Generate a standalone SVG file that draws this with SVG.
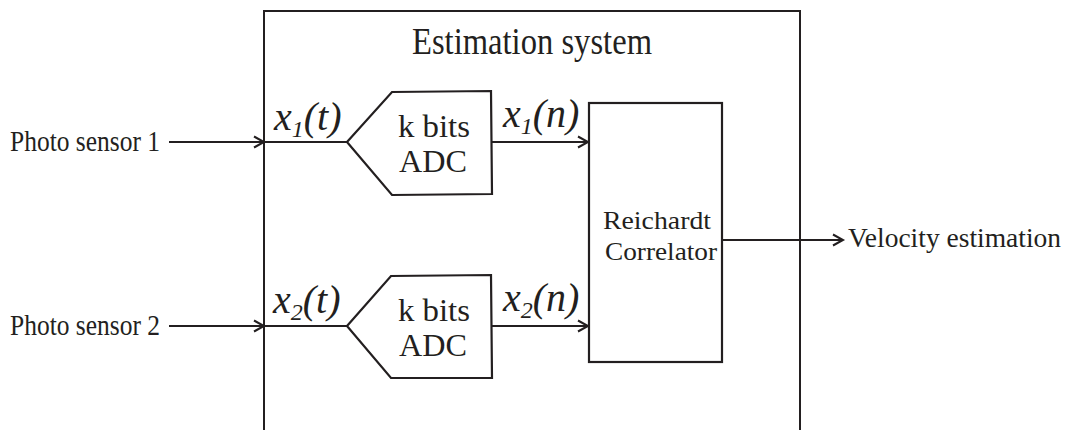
<svg xmlns="http://www.w3.org/2000/svg" width="1070" height="430" viewBox="0 0 1070 430">
  <style>
    .ln { fill: none; stroke: #231f20; stroke-width: 2; }
    .blk { fill: #ffffff; stroke: #231f20; stroke-width: 2.2; stroke-linejoin: miter; }
    .tx { font-family: "Liberation Serif", "Times New Roman", serif; fill: #231f20; }
    .sig { font-family: "Liberation Serif", "Times New Roman", serif; font-style: italic; fill: #231f20; font-size: 40px; }
    .sub { font-size: 24px; }
  </style>
  <defs>
    <marker id="arr" markerWidth="14" markerHeight="14" refX="11" refY="7" orient="auto" markerUnits="userSpaceOnUse">
      <path d="M1,1.5 L11,7 L1,12.5" fill="none" stroke="#231f20" stroke-width="2"/>
    </marker>
  </defs>
  <rect width="1070" height="430" fill="#ffffff"/>

  <!-- enclosing system box, open at the bottom -->
  <g id="system">
    <path class="ln" d="M264,430 V11 H800 V430" stroke-width="2.2"/>
    <text class="tx" x="412" y="54" font-size="37" textLength="240" lengthAdjust="spacingAndGlyphs">Estimation system</text>
  </g>

  <g id="sensor1">
    <text class="tx" x="10" y="151" font-size="29" textLength="150" lengthAdjust="spacingAndGlyphs">Photo sensor 1</text>
  </g>
  <g id="sensor2">
    <text class="tx" x="10" y="335" font-size="29" textLength="150" lengthAdjust="spacingAndGlyphs">Photo sensor 2</text>
  </g>

  <g id="adc1">
    <polygon class="blk" points="347,142 392,92 491,91 492,194 392,195"/>
    <text class="tx" x="398" y="137" font-size="32" textLength="72" lengthAdjust="spacingAndGlyphs">k bits</text>
    <text class="tx" x="399" y="172" font-size="31" textLength="68" lengthAdjust="spacingAndGlyphs">ADC</text>
  </g>
  <g id="adc2">
    <polygon class="blk" points="347,326 391,276 491,275 492,378 391,378"/>
    <text class="tx" x="398" y="321" font-size="32" textLength="72" lengthAdjust="spacingAndGlyphs">k bits</text>
    <text class="tx" x="399" y="356" font-size="31" textLength="68" lengthAdjust="spacingAndGlyphs">ADC</text>
  </g>

  <g id="correlator">
    <rect class="blk" x="589" y="103" width="133" height="259"/>
    <text class="tx" x="603" y="229" font-size="26" textLength="108" lengthAdjust="spacingAndGlyphs">Reichardt</text>
    <text class="tx" x="605" y="260" font-size="26" textLength="112" lengthAdjust="spacingAndGlyphs">Correlator</text>
  </g>

  <g id="output">
    <text class="tx" x="848" y="247" font-size="27.5">Velocity estimation</text>
  </g>

  <g id="connectors">
    <line class="ln" x1="169" y1="142" x2="264" y2="142" marker-end="url(#arr)"/>
    <line class="ln" x1="264" y1="142" x2="347" y2="142"/>
    <line class="ln" x1="169" y1="326" x2="264" y2="326" marker-end="url(#arr)"/>
    <line class="ln" x1="264" y1="326" x2="347" y2="326"/>
    <line class="ln" x1="492" y1="142" x2="588" y2="142" marker-end="url(#arr)"/>
    <line class="ln" x1="492" y1="326" x2="588" y2="326" marker-end="url(#arr)"/>
    <line class="ln" x1="722" y1="240" x2="843" y2="240" marker-end="url(#arr)"/>
    <text class="sig" x="274" y="130">x<tspan class="sub" dy="7">1</tspan><tspan dy="-7">(t)</tspan></text>
    <text class="sig" x="503" y="127">x<tspan class="sub" dy="7">1</tspan><tspan dy="-7">(n)</tspan></text>
    <text class="sig" x="273" y="313">x<tspan class="sub" dy="7">2</tspan><tspan dy="-7">(t)</tspan></text>
    <text class="sig" x="503" y="311">x<tspan class="sub" dy="7">2</tspan><tspan dy="-7">(n)</tspan></text>
  </g>
</svg>
